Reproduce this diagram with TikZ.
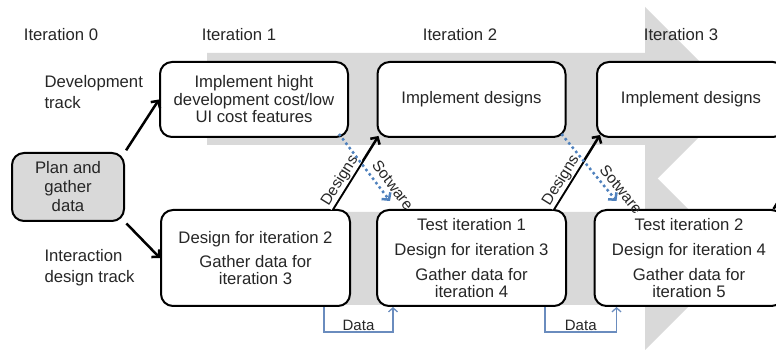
\documentclass[tikz,border=0pt]{standalone}
\usepackage{fontspec}
\setmainfont{Liberation Sans}
\usetikzlibrary{arrows.meta,calc}
\definecolor{bandgray}{RGB}{217,217,217}
\definecolor{swblue}{RGB}{79,129,189}
\definecolor{datablue}{RGB}{106,140,190}
\definecolor{txt}{RGB}{38,38,38}
\begin{document}
\begin{tikzpicture}[x=1pt,y=-1pt,
  every node/.style={font=\fontsize{16.7}{17.5}\selectfont, text=txt},
  box/.style={draw=black, line width=2pt, rounded corners=12pt, fill=white, align=center, inner sep=0pt},
  topbox/.style={box, minimum width=188, minimum height=75},
  botbox/.style={box, minimum width=189, minimum height=96},
  blk/.style={draw=black, line width=2.5pt, -{Straight Barb[length=5pt,width=11pt]}},
  sw/.style={draw=swblue, line width=2.5pt, dash pattern=on 2.5pt off 3pt, -{Straight Barb[length=5pt,width=11pt]}},
  data/.style={draw=datablue, line width=1.3pt, -{Straight Barb[length=4pt,width=9pt]}},
  lbl/.style={font=\fontsize{15.5}{15.5}\selectfont, text=txt, inner sep=1pt},
  track/.style={align=left, anchor=west, font=\fontsize{16.7}{21}\selectfont}
]
\clip (0,0) rectangle (776,352);
% gray band arrows
\fill[bandgray] (207,53) -- (645,53) -- (645,7) -- (737,99) -- (645,191) -- (645,145) -- (207,145) -- cycle;
\fill[bandgray] (207,212) -- (645,212) -- (645,166) -- (737,258) -- (645,350) -- (645,305) -- (207,305) -- cycle;

% headers
\node (it0) at (61,35) {Iteration 0};
\node (it1) at (239,35) {Iteration 1};
\node (it2) at (460,35) {Iteration 2};
\node (it3) at (681,35) {Iteration 3};

\node[track] (dev) at (41,92.5) {Development\\track};
\node[track] (ixd) at (41,268) {Interaction\\design track};

% boxes
\node[box, fill=bandgray, minimum width=112, minimum height=68] (plan) at (68,187) {Plan and\\[1.5pt]gather\\[1.5pt]data};
\node[topbox] (t1) at (254,99.5) {Implement hight\\development cost/low\\UI cost features};
\node[topbox] (t2) at (471.5,99.5) {Implement designs};
\node[topbox] (t3) at (691,99.5) {Implement designs};
\node[botbox] (b1) at (255.5,258) {Design for iteration 2\\[6.5pt]Gather data for\\iteration 3};
\node[botbox] (b2) at (471.5,258) {Test iteration 1\\[7.5pt]Design for iteration 3\\[7.5pt]Gather data for\\iteration 4};
\node[botbox] (b3) at (689,258) {Test iteration 2\\[7.5pt]Design for iteration 4\\[7.5pt]Gather data for\\iteration 5};

% plan arrows
\draw[blk, shorten <=2pt] (plan.north east) -- (t1.west);
\draw[blk, shorten <=2pt] (plan.south east) -- (b1.west);

% designs arrows
\draw[blk] ($(b1.north east)+(-18,0)$) -- ($(t2.south west)+(2,-2)$)
  node[pos=0.32, sloped, fill=white, lbl, yshift=9pt] {Designs};
\draw[blk] ($(b2.north east)+(-13,0)$) -- ($(t3.south west)+(4,-3)$)
  node[pos=0.32, sloped, fill=white, lbl, yshift=9pt] {Designs};
\coordinate (offr) at ($(b3.north east)+(19,-48)$);
\draw[blk] ($(b3.north east)+(-11,0)$) -- (offr);

% software arrows
\draw[sw] ($(t1.south east)+(-10,-4)$) -- ($(b2.north west)+(14,-8)$)
  node[pos=0.87, sloped, lbl, yshift=12pt] {Sotware};
\draw[sw] ($(t2.south east)+(-5,-4)$) -- ($(b3.north west)+(23,-8)$)
  node[pos=0.93, sloped, lbl, yshift=11pt] {Sotware};

% data arrows
\draw[data] ($(b1.south east)+(-27,0)$) -- ++(0,25) -| node[pos=0.25, above, lbl, font=\fontsize{15}{15}\selectfont] {Data} ($(b2.south west)+(17,0)$);
\draw[data] ($(b2.south east)+(-22,0)$) -- ++(0,25) -| node[pos=0.25, above, lbl, font=\fontsize{15}{15}\selectfont] {Data} ($(b3.south west)+(23,0)$);
\end{tikzpicture}
\end{document}
